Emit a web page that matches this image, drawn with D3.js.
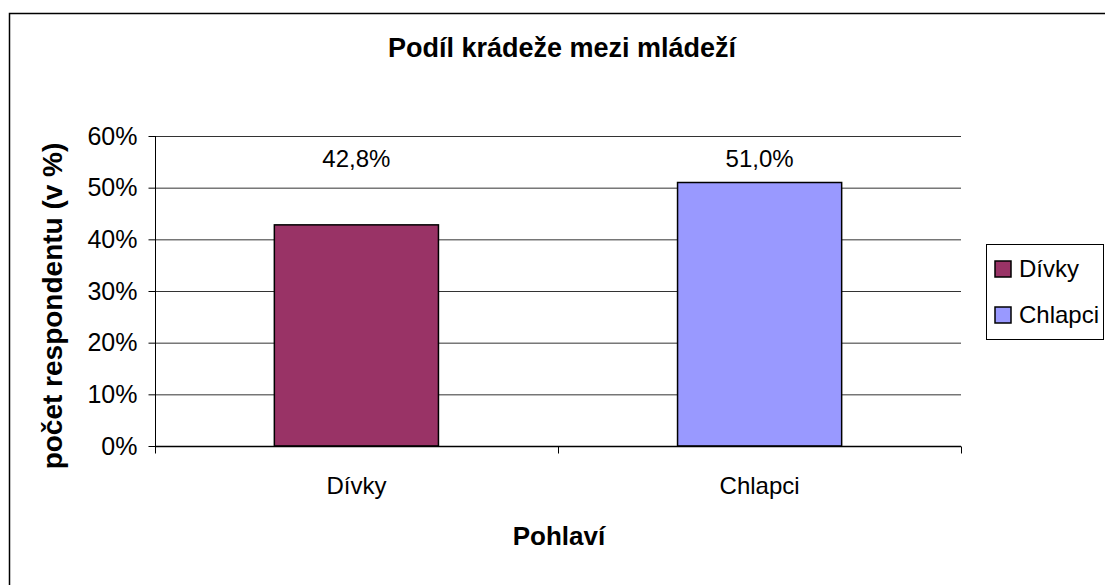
<!DOCTYPE html>
<html><head><meta charset="utf-8">
<script src="https://cdn.jsdelivr.net/npm/d3@7"></script>
<style>
html,body{margin:0;padding:0;background:#fff;}
text{font-family:"Liberation Sans",Arial,sans-serif;fill:#000;}
</style></head><body>
<svg id="c" width="1105" height="585"></svg>
<script>
const categories = ["Dívky", "Chlapci"];
const values = [42.8, 51.0];
const valueLabels = ["42,8%", "51,0%"];
const colors = ["#993366", "#9999FF"];
const yTicks = [0, 10, 20, 30, 40, 50, 60];
const title = "Podíl krádeže mezi mládeží";
const xTitle = "Pohlaví";
const yTitle = "počet respondentu (v %)";

const svg = d3.select("#c");
svg.append("rect").attr("x", 9.5).attr("y", 13.5).attr("width", 1200).attr("height", 700)
  .attr("fill", "#fff").attr("stroke", "#000").attr("stroke-width", 1.5);

const L = 155, R = 961, T = 136, B = 446;
const x = d3.scaleBand().domain(categories).range([L, R]).paddingInner(0.593).paddingOuter(0.296);
const y = d3.scaleLinear().domain([0, 60]).range([B, T]);

// gridlines
svg.append("g").selectAll("line").data(yTicks.filter(d => d > 0)).join("line")
  .attr("x1", L).attr("x2", R).attr("y1", d => y(d) + 0.5).attr("y2", d => y(d) + 0.5)
  .attr("stroke", "#333").attr("stroke-width", 1);

// bars
svg.append("g").selectAll("rect").data(values).join("rect")
  .attr("x", (d, i) => x(categories[i]))
  .attr("y", d => y(d))
  .attr("width", x.bandwidth())
  .attr("height", d => B - y(d))
  .attr("fill", (d, i) => colors[i]).attr("stroke", "#000").attr("stroke-width", 1.5);

// y axis
const yAxis = d3.axisLeft(y).tickValues(yTicks).tickFormat(d => d + "%").tickSizeInner(7).tickSizeOuter(0).tickPadding(11);
const gy = svg.append("g").attr("transform", `translate(${L + 0.5},0)`).call(yAxis);
gy.select(".domain").attr("d", `M0,${T}V${B + 7}`).attr("stroke", "#000");
gy.selectAll(".tick line").attr("stroke", "#000");
gy.selectAll(".tick text").attr("font-size", 25).attr("font-family", "Liberation Sans, Arial, sans-serif").attr("fill", "#000");

// x axis
const xPos = d3.scaleLinear().domain([0, categories.length]).range([L, R]);
const gx = svg.append("g").attr("transform", `translate(0,${B + 0.5})`);
gx.append("line").attr("x1", L).attr("x2", R).attr("stroke", "#000").attr("stroke-width", 1.5);
gx.selectAll("line.t").data(d3.range(categories.length + 1)).join("line").attr("class", "t")
  .attr("x1", d => xPos(d) + 0.5).attr("x2", d => xPos(d) + 0.5).attr("y1", 0).attr("y2", 7).attr("stroke", "#000");
gx.selectAll("text").data(categories).join("text")
  .attr("x", d => x(d) + x.bandwidth() / 2).attr("y", 47).attr("text-anchor", "middle")
  .attr("font-size", 24).text(d => d);

// value labels
svg.append("g").selectAll("text").data(values).join("text")
  .attr("x", (d, i) => x(categories[i]) + x.bandwidth() / 2).attr("y", 167)
  .attr("text-anchor", "middle").attr("font-size", 24).text((d, i) => valueLabels[i]);

// titles
svg.append("text").attr("x", 562).attr("y", 57).attr("text-anchor", "middle")
  .attr("font-size", 27).attr("font-weight", "bold").text(title);
svg.append("text").attr("x", 559).attr("y", 545).attr("text-anchor", "middle")
  .attr("font-size", 26).attr("font-weight", "bold").text(xTitle);
svg.append("text").attr("transform", "translate(62,306) rotate(-90)").attr("text-anchor", "middle")
  .attr("font-size", 28).attr("font-weight", "bold").text(yTitle);

// legend
const lg = svg.append("g");
lg.append("rect").attr("x", 986.5).attr("y", 244.5).attr("width", 117).attr("height", 95)
  .attr("fill", "#fff").attr("stroke", "#000").attr("stroke-width", 1);
categories.forEach((c, i) => {
  const yy = 261 + i * 46;
  lg.append("rect").attr("x", 995).attr("y", yy).attr("width", 16).attr("height", 16)
    .attr("fill", colors[i]).attr("stroke", "#000").attr("stroke-width", 1.5);
  lg.append("text").attr("x", 1019).attr("y", yy + 16).attr("font-size", 24).text(c);
});
</script></body></html>
